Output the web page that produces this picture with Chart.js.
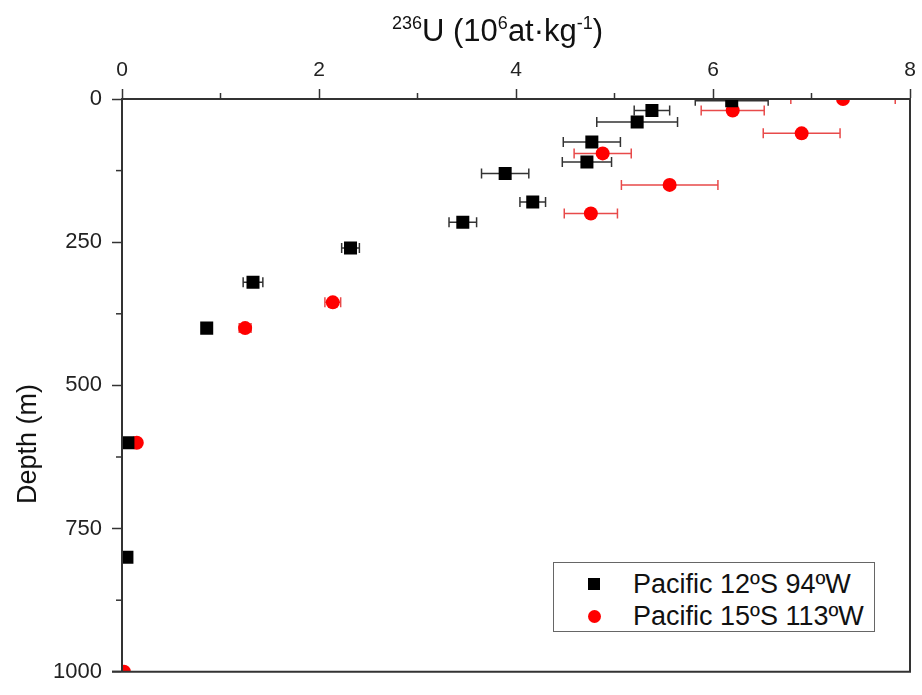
<!DOCTYPE html>
<html>
<head>
<meta charset="utf-8">
<script src="https://cdn.jsdelivr.net/npm/chart.js@4/dist/chart.umd.min.js"></script>
<style>
  body { margin: 0; background: #fff; }
  #wrap { position: relative; width: 922px; height: 695px; font-family: "Liberation Sans", Arial, sans-serif; color: #111; }
  #depthChart { display: block; }
  #xTitle { position: absolute; left: 392px; top: 15px; font-size: 31px; line-height: 31px; white-space: nowrap; }
  #xTitle .sup { font-size: 18px; position: relative; top: -12px; }
  #yTitle { position: absolute; left: 27px; top: 444px; font-size: 27px; line-height: 30px; white-space: nowrap;
            transform: translate(-50%, -50%) rotate(-90deg); }
  #legend { position: absolute; left: 553px; top: 562px; width: 320px; height: 68px; border: 1px solid #666; background: #fff; }
  #legend .mark { position: absolute; }
  #legend .txt { position: absolute; left: 79px; font-size: 27px; line-height: 30px; white-space: nowrap; }
</style>
</head>
<body>
<div id="wrap">
  <canvas id="depthChart" width="922" height="695"></canvas>
  <div id="xTitle"><span class="sup">236</span>U (10<span class="sup">6</span>at·kg<span class="sup">-1</span>)</div>
  <div id="yTitle">Depth (m)</div>
  <div id="legend"></div>
</div>
<script>
const seriesNames = ["Pacific 12ºS 94ºW", "Pacific 15ºS 113ºW"];
const seriesColors = ["#000000", "#ff0000"];
const errColors = ["#333333", "#e84a4a"];

// 12ºS 94ºW
const u236A = [6.19, 5.38, 5.23, 4.77, 4.72, 3.89, 4.17, 3.46, 2.32, 1.33, 0.86, 0.06, 0.05];
const depthA = [3, 20, 40, 75, 110, 130, 180, 215, 260, 320, 400, 600, 800];
const errA = [0.37, 0.18, 0.41, 0.29, 0.25, 0.24, 0.13, 0.14, 0.09, 0.10, 0.04, 0.02, 0.02];

// 15ºS 113ºW
const u236B = [7.32, 6.20, 6.90, 4.88, 5.56, 4.76, 2.14, 1.25, 0.15, 0.02];
const depthB = [0, 20, 60, 95, 150, 200, 355, 400, 600, 1000];
const errB = [0.53, 0.32, 0.39, 0.29, 0.49, 0.27, 0.08, 0.06, 0.03, 0.02];

const xTicks = [0, 2, 4, 6, 8];
const xMinor = [1, 3, 5, 7];
const yTicks = [0, 250, 500, 750, 1000];
const yMinor = [125, 375, 625, 875];

const toPoints = (xs, ys) => xs.map((v, i) => ({ x: v, y: ys[i] }));

// horizontal error bars, under the markers
const errorBars = {
    id: "errorBars",
    beforeDatasetsDraw(chart) {
        const { ctx, chartArea, scales: { x, y } } = chart;
        ctx.save();
        ctx.beginPath();
        ctx.rect(chartArea.left, chartArea.top, chartArea.right - chartArea.left, chartArea.bottom - chartArea.top);
        ctx.clip();
        chart.data.datasets.forEach((ds, di) => {
            ctx.strokeStyle = errColors[di];
            ctx.lineWidth = 1.5;
            ds.data.forEach((p, i) => {
                const e = ds.xErr[i];
                const x0 = x.getPixelForValue(p.x - e);
                const x1 = x.getPixelForValue(p.x + e);
                const py = y.getPixelForValue(p.y);
                ctx.beginPath();
                ctx.moveTo(x0, py); ctx.lineTo(x1, py);
                ctx.moveTo(x0, py - 5); ctx.lineTo(x0, py + 5);
                ctx.moveTo(x1, py - 5); ctx.lineTo(x1, py + 5);
                ctx.stroke();
            });
        });
        ctx.restore();
    }
};

// minor ticks and the right / bottom frame lines
const frame = {
    id: "frame",
    afterDraw(chart) {
        const { ctx, chartArea, scales: { x, y } } = chart;
        ctx.save();
        ctx.strokeStyle = "#333";
        ctx.lineWidth = 1.5;
        xMinor.forEach(v => {
            const px = x.getPixelForValue(v);
            ctx.beginPath(); ctx.moveTo(px, chartArea.top); ctx.lineTo(px, chartArea.top - 6); ctx.stroke();
        });
        yMinor.forEach(v => {
            const py = y.getPixelForValue(v);
            ctx.beginPath(); ctx.moveTo(chartArea.left, py); ctx.lineTo(chartArea.left - 6, py); ctx.stroke();
        });
        ctx.lineWidth = 2;
        ctx.beginPath();
        ctx.moveTo(chartArea.left - 10, chartArea.bottom);
        ctx.lineTo(chartArea.right, chartArea.bottom);
        ctx.lineTo(chartArea.right, chartArea.top);
        ctx.stroke();
        ctx.restore();
    }
};

function buildLegend() {
    const box = document.getElementById("legend");
    seriesNames.forEach((name, i) => {
        const cy = 21 + i * 32;
        const mark = document.createElement("div");
        mark.className = "mark";
        const s = i === 0 ? 12 : 13;
        mark.style.cssText = `left:${40 - s / 2}px;top:${cy - s / 2}px;width:${s}px;height:${s}px;background:${seriesColors[i]};border-radius:${i === 0 ? 0 : "50%"}`;
        const txt = document.createElement("div");
        txt.className = "txt";
        txt.style.top = (cy - 15) + "px";
        txt.textContent = name;
        box.appendChild(mark);
        box.appendChild(txt);
    });
}

function renderChart() {
    const ctx = document.getElementById("depthChart").getContext("2d");
    new Chart(ctx, {
        type: "scatter",
        data: {
            datasets: [
                {
                    label: seriesNames[0],
                    data: toPoints(u236A, depthA),
                    xErr: errA,
                    pointStyle: "rect",
                    pointRadius: 9.2,
                    pointBorderWidth: 0,
                    backgroundColor: seriesColors[0],
                    borderColor: seriesColors[0]
                },
                {
                    label: seriesNames[1],
                    data: toPoints(u236B, depthB),
                    xErr: errB,
                    pointStyle: "circle",
                    pointRadius: 7,
                    pointBorderWidth: 0,
                    backgroundColor: seriesColors[1],
                    borderColor: seriesColors[1]
                }
            ]
        },
        options: {
            responsive: false,
            animation: false,
            layout: { padding: { top: 45, left: 0, right: 12, bottom: 11 } },
            plugins: { legend: { display: false }, tooltip: { enabled: false } },
            scales: {
                x: {
                    type: "linear",
                    position: "top",
                    min: 0, max: 8,
                    afterBuildTicks: s => { s.ticks = xTicks.map(v => ({ value: v })); },
                    afterFit: s => { s.height = 54; },
                    ticks: { font: { family: "Liberation Sans", size: 21 }, color: "#222", padding: 6,
                             callback: v => String(v) },
                    grid: { drawOnChartArea: false, tickLength: 10, tickColor: "#333", tickWidth: 1.5 },
                    border: { color: "#333", width: 2, z: 1 }
                },
                y: {
                    type: "linear",
                    reverse: true,
                    min: 0, max: 1000,
                    afterBuildTicks: s => { s.ticks = yTicks.map(v => ({ value: v })); },
                    afterFit: s => { s.width = 122; },
                    ticks: { font: { family: "Liberation Sans", size: 22 }, color: "#222", padding: 10,
                             callback: v => String(v) },
                    grid: { drawOnChartArea: false, tickLength: 10, tickColor: "#333", tickWidth: 1.5 },
                    border: { color: "#333", width: 2, z: 1 }
                }
            }
        },
        plugins: [errorBars, frame]
    });
}

document.addEventListener("DOMContentLoaded", () => {
    buildLegend();
    renderChart();
});
</script>
</body>
</html>
